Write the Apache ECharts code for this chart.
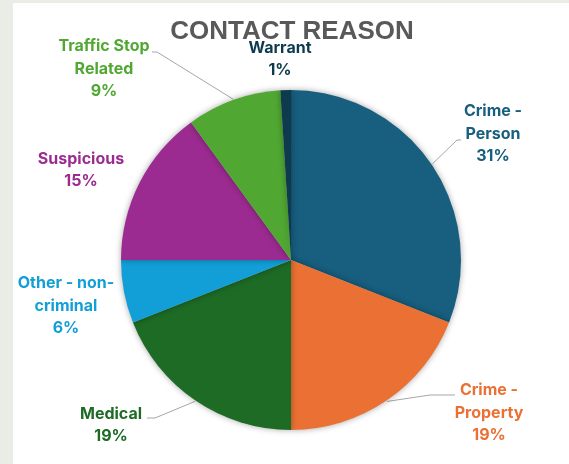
<!DOCTYPE html>
<html><head><meta charset="utf-8">
<script src="https://cdn.jsdelivr.net/npm/echarts@6/dist/echarts.min.js"></script>
<style>
html,body{margin:0;padding:0;background:#e9ede6;}
#card{position:absolute;left:13px;top:3px;width:556px;height:461px;background:#fff;}
#chart{position:absolute;left:0;top:0;width:569px;height:464px;}
</style></head>
<body><div id="card"></div><div id="chart"></div>
<script>
const categories = ['Crime - Person','Crime - Property','Medical','Other - non-criminal','Suspicious','Traffic Stop Related','Warrant'];
const labelText = ['Crime -\nPerson','Crime -\nProperty','Medical','Other - non-\ncriminal','Suspicious','Traffic Stop\nRelated','Warrant'];
const values = [31,19,19,6,15,9,1];
const colors = ['#175e7f','#ea7133','#1d6b25','#129fd7','#9c2b91','#50a832','#0e3a4e'];
// layout only: label centres and leader-line bend/end points (null = no leader line)
const labelPos = [[493,134],[489,413],[111,425],[66,306],[81,170],[104,69],[280,59]];
const leader = [[[457,140],[461,140]],[[430,395],[455,395]],[[155,418],[147,418]],null,null,[[157,52],[152,52]],null];
const CX=291, CY=260, R=170;

const total = values.reduce((a,b)=>a+b,0);
function anchor(i){
  let before=0; for(let k=0;k<i;k++) before+=values[k];
  const mid=(before+values[i]/2)/total;
  const ang=Math.PI/2 - mid*2*Math.PI;
  return [CX+(R+1)*Math.cos(ang), CY-(R+1)*Math.sin(ang)];
}
const leaderLines = [];
leader.forEach((l,i)=>{ if(l) leaderLines.push({type:'polyline',z:1,silent:true,
  shape:{points:[anchor(i),l[0],l[1]]},style:{stroke:'#a6a6a6',lineWidth:1,fill:null}}); });

const chart = echarts.init(document.getElementById('chart'));
chart.setOption({
  title:{text:'CONTACT REASON',left:287,top:14,textAlign:'center',
    textStyle:{fontFamily:'Liberation Sans',fontWeight:'bold',fontSize:26,color:'#595959'}},
  graphic:leaderLines,
  series:[{
    type:'pie',center:[CX,CY],radius:R,startAngle:90,clockwise:true,
    animation:false,
    itemStyle:{shadowBlur:6,shadowColor:'rgba(0,0,0,0.35)'},
    label:{show:true,position:'outside',overflow:'none',fontFamily:'Inter',fontWeight:'bold',fontSize:16,lineHeight:22.5,
      align:'center',
      formatter:p=>labelText[p.dataIndex]+'\n'+p.value+'%'},
    labelLine:{show:false},
    labelLayout:p=>({x:labelPos[p.dataIndex][0],y:labelPos[p.dataIndex][1],align:'center',verticalAlign:'middle'}),
    data:categories.map((c,i)=>({name:c,value:values[i],
      itemStyle:{color:colors[i]},
      label:{color:colors[i]}}))
  }]
});
</script></body></html>
